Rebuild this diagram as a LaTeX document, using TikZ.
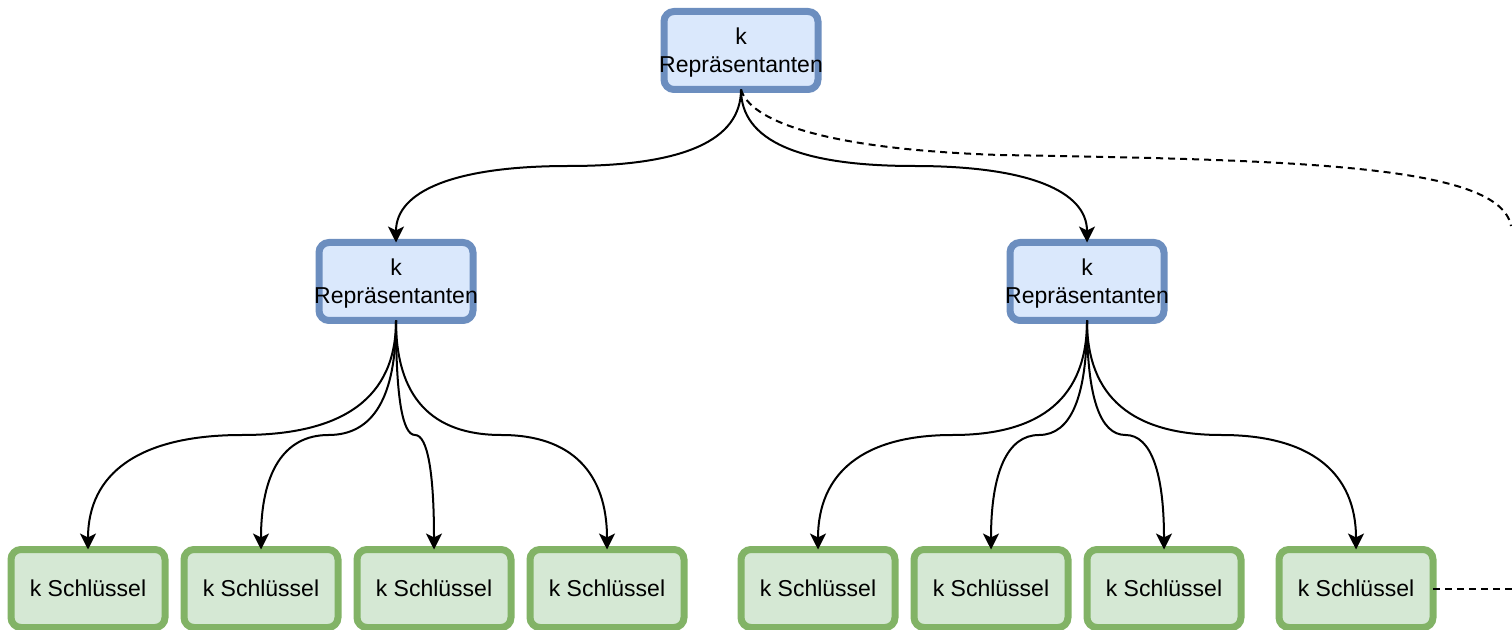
\documentclass[tikz,border=0pt]{standalone}
\usepackage{fontspec}
\setmainfont{Liberation Sans}
\usetikzlibrary{arrows.meta,calc}
\definecolor{bfill}{HTML}{DAE8FC}
\definecolor{bline}{HTML}{6C8EBF}
\definecolor{gfill}{HTML}{D5E8D4}
\definecolor{gline}{HTML}{82B366}
\begin{document}
\begin{tikzpicture}[x=0.75pt,y=-0.75pt,
  box/.style={rectangle, rounded corners=7.5pt, line width=5.25pt,
    minimum width=115.5pt, minimum height=58.5pt, inner sep=0pt, outer sep=0pt,
    align=center, text depth=0pt, font=\fontsize{17.25}{21}\selectfont},
  rep/.style={box, draw=bline, fill=bfill},
  key/.style={box, draw=gline, fill=gfill},
  edge/.style={line width=1.5pt, -{Stealth[length=12pt,width=12pt,inset=3pt]}},
  dashedge/.style={line width=1.5pt, dash pattern=on 5.25pt off 3.75pt},
  curv/.style={to path={let \p1=(\tikztostart), \p2=(\tikztotarget),
      \n1={0.5*(\y1+\y2)}, \n2={0.5*(\x1+\x2)} in
      .. controls (\x1,{(\y1+2*\n1)/3}) and ({(\n2+2*\x1)/3},\n1) .. (\n2,\n1)
      .. controls ({(\n2+2*\x2)/3},\n1) and (\x2,{(\y2+2*\n1)/3}) .. (\tikztotarget)}}
]
\useasboundingbox (0,0) rectangle (1512,630);

\node[rep] (t)  at (741,50.5)  {k\\\makebox[0pt]{Repräsentanten}};
\node[rep] (m1) at (396,281.5) {k\\\makebox[0pt]{Repräsentanten}};
\node[rep] (m2) at (1087,281.5) {k\\\makebox[0pt]{Repräsentanten}};

\node[key] (l1) at (88,588.5)   {k Schlüssel};
\node[key] (l2) at (261,588.5)  {k Schlüssel};
\node[key] (l3) at (434,588.5)  {k Schlüssel};
\node[key] (l4) at (607,588.5)  {k Schlüssel};
\node[key] (l5) at (818,588.5)  {k Schlüssel};
\node[key] (l6) at (991,588.5)  {k Schlüssel};
\node[key] (l7) at (1164,588.5) {k Schlüssel};
\node[key] (l8) at (1356,588.5) {k Schlüssel};

\draw[edge] (t.south) to[curv] (m1.north);
\draw[edge] (t.south) to[curv] (m2.north);

\foreach \l in {l1,l2,l3,l4}{\draw[edge] (m1.south) to[curv] (\l.north);}
\foreach \l in {l5,l6,l7,l8}{\draw[edge] (m2.south) to[curv] (\l.north);}

\coordinate (dE) at (1511,226);
\draw[dashedge] (t.south) .. controls (750,120) and (820,149) .. (1000,155)
  .. controls (1300,160) and (1500,165) .. (dE);
\coordinate (dR) at (1512,588.5);
\draw[dashedge] (l8.east) -- (dR);
\end{tikzpicture}
\end{document}
